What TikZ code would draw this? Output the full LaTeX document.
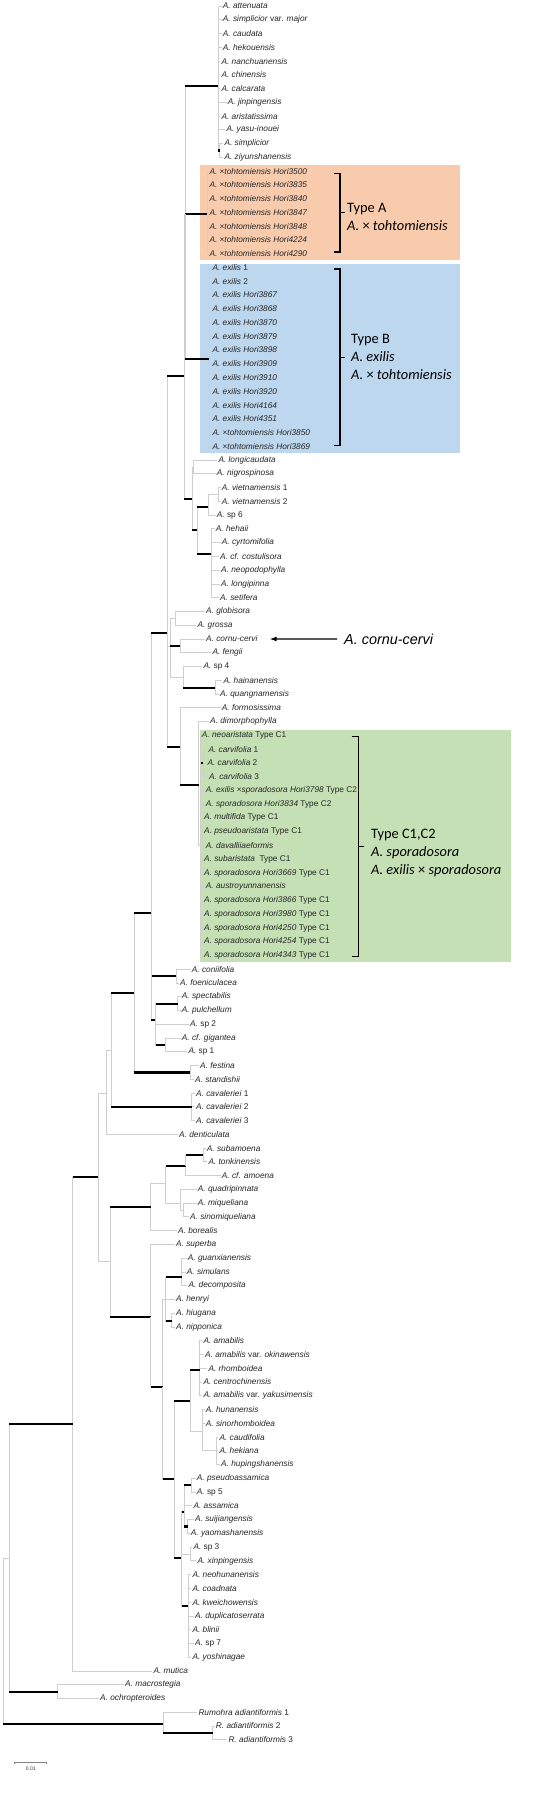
\documentclass[tikz,border=0pt]{standalone}
\usepackage{fontspec}
\usetikzlibrary{arrows.meta}
\setmainfont{Liberation Sans}
\newfontfamily\typefont{Carlito}
\definecolor{torange}{HTML}{F8CBAD}
\definecolor{tblue}{HTML}{BDD7EE}
\definecolor{tgreen}{HTML}{C5E0B4}
\definecolor{tgray}{HTML}{CFCFCF}
\newcommand\up[1]{\textup{#1}}

\begin{document}
\begin{tikzpicture}[x=1pt,y=-1pt,
  br/.style={tgray, line width=0.8pt},
  bs/.style={black, line width=2.2pt},
  lf/.style={anchor=west, inner xsep=1pt, inner ysep=0pt, text=black!85,
    font=\fontsize{8.3}{9}\selectfont\itshape},
  brk/.style={black, line width=1.4pt},
  tlab/.style={anchor=west, align=left, inner sep=0pt,
    font=\typefont\fontsize{14.4}{18}\selectfont}]
 \useasboundingbox[fill=white] (0,0) rectangle (544,1817);
 % coloured groups
 \fill[torange] (200.3,164.7) rectangle (460,260.3);
 \fill[tblue] (200.3,264) rectangle (460,452.7);
 \fill[tgreen] (200,730.3) rectangle (511,962.3);

 % internal nodes
 \coordinate (t) at (218.3,86);
 \coordinate (tz) at (219.8,150.5);
 \coordinate (ta) at (207.3,214.3);
 \coordinate (tb) at (209,359);
 \coordinate (n185) at (185,214.3);
 \coordinate (p184) at (184,376.3);
 \coordinate (lvh) at (192.3,499.3);
 \coordinate (l1n) at (193.3,467);
 \coordinate (vh) at (197,530);
 \coordinate (v2) at (208.3,506.7);
 \coordinate (vv) at (218.3,494.5);
 \coordinate (h) at (211,554.3);
 \coordinate (n167) at (167,633);
 \coordinate (n170) at (170,646);
 \coordinate (gg) at (175,618.3);
 \coordinate (cf) at (180,645.9);
 \coordinate (s4) at (183.3,677.4);
 \coordinate (hq) at (215,688.3);
 \coordinate (n180) at (180,747);
 \coordinate (dm) at (198.5,785);
 \coordinate (cc) at (200.5,845.4);
 \coordinate (cv) at (203.3,762.8);
 \coordinate (n151) at (151,912.7);
 \coordinate (con) at (176,976.1);
 \coordinate (n155) at (155.5,1020);
 \coordinate (spp) at (177.7,1003.6);
 \coordinate (gs) at (165,1045);
 \coordinate (n134) at (134,992.7);
 \coordinate (fs) at (190,1072.4);
 \coordinate (n111) at (111,1050);
 \coordinate (cav) at (191.7,1106.8);
 \coordinate (n107) at (106.7,1093);
 \coordinate (n98) at (98.3,1177.3);
 \coordinate (n110) at (110,1261.7);
 \coordinate (am) at (150.7,1207.3);
 \coordinate (q) at (165.7,1183.3);
 \coordinate (n186) at (185.7,1166);
 \coordinate (st) at (203.3,1155);
 \coordinate (qm) at (180,1203);
 \coordinate (mq) at (183.3,1210);
 \coordinate (su) at (150.7,1316.7);
 \coordinate (n162) at (162.7,1386.7);
 \coordinate (hn) at (165.5,1299);
 \coordinate (gsd) at (181.5,1277.3);
 \coordinate (hin) at (171.7,1321);
 \coordinate (n174) at (174,1479.3);
 \coordinate (amb) at (190,1401);
 \coordinate (am2) at (199.5,1370);
 \coordinate (hsn) at (202.3,1431);
 \coordinate (chh) at (216.7,1450.8);
 \coordinate (n181) at (181.7,1558.3);
 \coordinate (pa) at (184,1511.7);
 \coordinate (psa) at (191,1485.2);
 \coordinate (sy) at (187.7,1526.5);
 \coordinate (sx) at (190,1554);
 \coordinate (k) at (188.3,1606);
 \coordinate (n73) at (72.7,1424.3);
 \coordinate (n9) at (9,1558.3);
 \coordinate (mo) at (57.7,1692.3);
 \coordinate (root) at (3.3,1641);
 \coordinate (rum) at (163.3,1724);
 \coordinate (r23) at (212.5,1733);

 % leaves: number / text start / parent / label
 \foreach \i/\x/\nm/\lbl in {
  1/222.7/t/{A. attenuata},
  2/222.7/t/{A. simplicior \up{var.} major},
  3/222.7/t/{A. caudata},
  4/222.7/t/{A. hekouensis},
  5/221.3/t/{A. nanchuanensis},
  6/221.3/t/{A. chinensis},
  7/221.3/t/{A. calcarata},
  8/227.7/t/{A. jinpingensis},
  9/221.3/t/{A. aristatissima},
  10/226.3/t/{A. yasu-inouei},
  11/224.3/tz/{A. simplicior},
  12/224.3/tz/{A. ziyunshanensis},
  13/209.3/ta/{A. \up{×}tohtomiensis Hori3500},
  14/209.3/ta/{A. \up{×}tohtomiensis Hori3835},
  15/209.3/ta/{A. \up{×}tohtomiensis Hori3840},
  16/209.3/ta/{A. \up{×}tohtomiensis Hori3847},
  17/209.3/ta/{A. \up{×}tohtomiensis Hori3848},
  18/209.3/ta/{A. \up{×}tohtomiensis Hori4224},
  19/209.3/ta/{A. \up{×}tohtomiensis Hori4290},
  20/212.3/tb/{A. exilis \up{1}},
  21/212.3/tb/{A. exilis \up{2}},
  22/212.3/tb/{A. exilis Hori3867},
  23/212.3/tb/{A. exilis Hori3868},
  24/212.3/tb/{A. exilis Hori3870},
  25/212.3/tb/{A. exilis Hori3879},
  26/212.3/tb/{A. exilis Hori3898},
  27/212.3/tb/{A. exilis Hori3909},
  28/212.3/tb/{A. exilis Hori3910},
  29/212.3/tb/{A. exilis Hori3920},
  30/212.3/tb/{A. exilis Hori4164},
  31/212.3/tb/{A. exilis Hori4351},
  32/212.3/tb/{A. \up{×}tohtomiensis Hori3850},
  33/212.3/tb/{A. \up{×}tohtomiensis Hori3869},
  34/218.3/l1n/{A. longicaudata},
  35/216.7/l1n/{A. nigrospinosa},
  36/221.7/vv/{A. vietnamensis \up{1}},
  37/221.7/vv/{A. vietnamensis \up{2}},
  38/216.7/v2/{A. \up{sp 6}},
  39/215.7/h/{A. hehaii},
  40/221.7/h/{A. cyrtomifolia},
  41/220/h/{A. cf. costulisora},
  42/221/h/{A. neopodophylla},
  43/221/h/{A. longipinna},
  44/220/h/{A. setifera},
  45/206/gg/{A. globisora},
  46/197.3/gg/{A. grossa},
  47/206/cf/{A. cornu-cervi},
  48/212.3/cf/{A. fengii},
  49/203.3/s4/{A. \up{sp 4}},
  50/223.3/hq/{A. hainanensis},
  51/220/hq/{A. quangnamensis},
  52/221.7/n180/{A. formosissima},
  53/210/dm/{A. dimorphophylla},
  54/201.7/cc/{A. neoaristata \up{Type C1}},
  55/208.3/cv/{A. carvifolia \up{1}},
  56/207.3/cv/{A. carvifolia \up{2}},
  57/209/cv/{A. carvifolia \up{3}},
  58/205.7/cc/{A. exilis \up{×}sporadosora Hori3798 \up{Type C2}},
  59/205.7/cc/{A. sporadosora Hori3834 \up{Type C2}},
  60/204/cc/{A. multifida \up{Type C1}},
  61/204/cc/{A. pseudoaristata \up{Type C1}},
  62/205.7/cc/{A. davalliiaeformis},
  63/204/cc/{A. subaristata \ \up{Type C1}},
  64/204/cc/{A. sporadosora Hori3669 \up{Type C1}},
  65/205.7/cc/{A. austroyunnanensis},
  66/204/cc/{A. sporadosora Hori3866 \up{Type C1}},
  67/204/cc/{A. sporadosora Hori3980 \up{Type C1}},
  68/204/cc/{A. sporadosora Hori4250 \up{Type C1}},
  69/204/cc/{A. sporadosora Hori4254 \up{Type C1}},
  70/204/cc/{A. sporadosora Hori4343 \up{Type C1}},
  71/191.7/con/{A. coniifolia},
  72/180/con/{A. foeniculacea},
  73/181.7/spp/{A. spectabilis},
  74/181.7/spp/{A. pulchellum},
  75/190/n155/{A. \up{sp 2}},
  76/181.7/gs/{A. cf. gigantea},
  77/188.3/gs/{A. \up{sp 1}},
  78/200/fs/{A. festina},
  79/195/fs/{A. standishii},
  80/196/cav/{A. cavaleriei \up{1}},
  81/196/cav/{A. cavaleriei \up{2}},
  82/196/cav/{A. cavaleriei \up{3}},
  83/179/n107/{A. denticulata},
  84/206.7/st/{A. subamoena},
  85/208.3/st/{A. tonkinensis},
  86/221.7/n186/{A. cf. amoena},
  87/197.7/qm/{A. quadripinnata},
  88/197.7/mq/{A. miqueliana},
  89/190/mq/{A. sinomiqueliana},
  90/178/am/{A. borealis},
  91/176/su/{A. superba},
  92/187.7/gsd/{A. guanxianensis},
  93/186.7/gsd/{A. simulans},
  94/188.3/gsd/{A. decomposita},
  95/176/hn/{A. henryi},
  96/176/hin/{A. hiugana},
  97/176/hin/{A. nipponica},
  98/203.3/am2/{A. amabilis},
  99/205/am2/{A. amabilis \up{var.} okinawensis},
  100/208.3/am2/{A. rhomboidea},
  101/203.3/am2/{A. centrochinensis},
  102/203.3/am2/{A. amabilis \up{var.} yakusimensis},
  103/205.7/hsn/{A. hunanensis},
  104/205.7/hsn/{A. sinorhomboidea},
  105/219.3/chh/{A. caudifolia},
  106/219.3/chh/{A. hekiana},
  107/221/chh/{A. hupingshanensis},
  108/196.7/psa/{A. pseudoassamica},
  109/196.7/psa/{A. \up{sp 5}},
  110/193.3/pa/{A. assamica},
  111/195/sy/{A. suijiangensis},
  112/190.7/sy/{A. yaomashanensis},
  113/193.3/sx/{A. \up{sp 3}},
  114/197.3/sx/{A. xinpingensis},
  115/192.3/k/{A. neohunanensis},
  116/192.3/k/{A. coadnata},
  117/192.3/k/{A. kweichowensis},
  118/195/k/{A. duplicatoserrata},
  119/192.3/k/{A. blinii},
  120/195/k/{A. \up{sp 7}},
  121/192.3/k/{A. yoshinagae},
  122/153.3/n73/{A. mutica},
  123/125/mo/{A. macrostegia},
  124/100/mo/{A. ochropteroides},
  125/198.3/rum/{Rumohra adiantiformis \up{1}},
  126/215.7/r23/{R. adiantiformis \up{2}},
  127/228.3/r23/{R. adiantiformis \up{3}}
 }{
  \node[lf] (l\i) at (\x-1,{6+(\i-1)*13.76}) {\lbl};
  \draw[br] (\nm) |- (l\i.west);
 }

 % plain branches
 \foreach \a/\b in {p184/n185, lvh/l1n, v2/vv, n167/n170, n170/gg, n170/s4,
   dm/cc, n107/n111, n98/n107, n98/n110, am/q, q/qm, qm/mq, n162/hn,
   amb/hsn, hsn/chh, n181/sx, root/n9}
  \draw[br] (\a) |- (\b);
 % supported branches
 \foreach \a/\b in {n185/t, n185/ta, n185/tb, t/tz, n167/p184, p184/lvh,
   lvh/vh, vh/v2, vh/h, n170/cf, s4/hq, n167/n180, n180/dm, cc/cv,
   n151/n167, n151/con, n151/n155, n155/spp, n155/gs, n134/n151, n134/fs,
   n111/n134, n111/cav, n73/n98, n110/am, n110/su, q/n186, n186/st,
   su/n162, hn/gsd, hn/hin, n162/n174, n174/amb, amb/am2, n174/n181,
   n181/pa, pa/psa, pa/sy, n181/k, n9/n73, n9/mo, root/rum, rum/r23}{
  \draw[br] (\a) |- (\b);
  \draw[bs] (\a |- \b) -- (\b);
 }

 % type brackets
 \draw[brk] (334,173.3) -- (340,173.3) -- (340,252) -- (334,252);
 \draw[brk] (340,212.7) -- (345,212.7);
 \node[tlab] (tA) at (347,216.9) {Type A\\\textit{A. \textup{×} tohtomiensis}};
 \draw[brk] (334,269) -- (340,269) -- (340,445.3) -- (334,445.3);
 \draw[brk] (340,357.3) -- (345,357.3);
 \node[tlab] (tB) at (351,357.3) {Type B\\\textit{A. exilis}\\\textit{A. \textup{×} tohtomiensis}};
 \draw[brk] (351.7,736.7) -- (358.3,736.7) -- (358.3,956.7) -- (351.7,956.7);
 \draw[brk] (358.3,846.7) -- (364,846.7);
 \node[tlab] (tC) at (371,852.7) {Type C1,C2\\\textit{A. sporadosora}\\\textit{A. exilis \textup{×} sporadosora}};

 % pointer
 \node[anchor=west, inner sep=0pt, font=\fontsize{14.4}{16}\selectfont\itshape] (ccv) at (344,639) {A. cornu-cervi};
 \draw[-{Latex[length=7pt,width=5pt]}, line width=1.3pt, shorten <=7pt, shorten >=11pt] (ccv.west) -- (l47.east);

 % scale bar
 \coordinate (sb1) at (14,1762.3);
 \coordinate (sb2) at (46.7,1762.3);
 \draw[gray, line width=0.5pt] ([yshift=-2pt]sb1) -- (sb1) -- (sb2) -- ([yshift=-2pt]sb2);
 \node[font=\fontsize{5}{6}\selectfont, text=black!80] (sbl) at (30.7,1769) {0.01};
\end{tikzpicture}
\end{document}
